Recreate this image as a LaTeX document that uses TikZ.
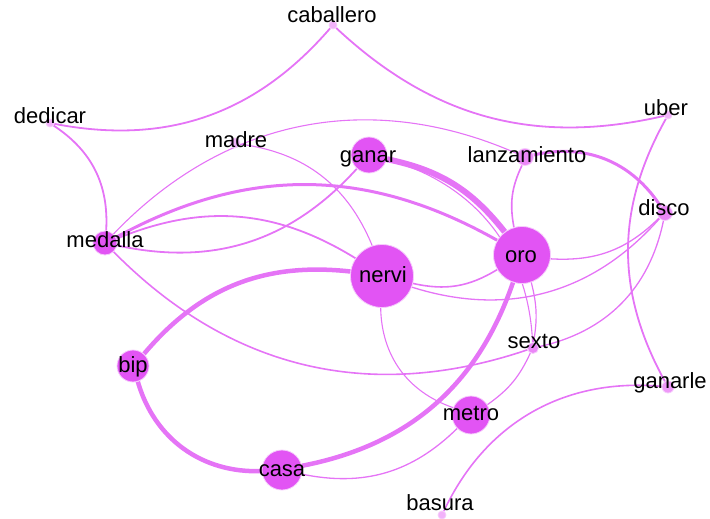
\documentclass[tikz,border=0pt]{standalone}
\usepackage{fontspec}
\setmainfont{Liberation Sans}
\usetikzlibrary{backgrounds}
\definecolor{nodeCol}{RGB}{226,84,244}
\definecolor{edgeCol}{RGB}{229,116,246}
\definecolor{rimCol}{RGB}{246,204,252}

\begin{document}
\begin{tikzpicture}[x=1pt,y=-1pt,
  vert/.style={circle,inner sep=0pt,fill=nodeCol,draw=rimCol,line width=0.8pt,minimum size=#1},
  dot/.style={vert=#1,fill=nodeCol!45},
  word/.style={anchor=base,inner sep=0pt,font=\fontsize{22pt}{24pt}\selectfont,text=black},
  link/.style={draw=edgeCol,line width=#1}]
\useasboundingbox (0,0) rectangle (710,519);
%%%%%%%%%%%%%%%%%%%%%%%%%%%%
%%%%%%%%% Nodes %%%%%%%%%%%%
%%%%%%%%%%%%%%%%%%%%%%%%%%%%
\node[dot=8] (caballero) at (333,25) {};
\node[dot=8] (dedicar) at (50,123) {};
\node[dot=10] (madre) at (235,143) {};
\node[dot=8] (uber) at (668,115) {};
\node[vert=36] (ganar) at (369,155) {};
\node[vert=17,fill=nodeCol!70] (lanzamiento) at (525,157) {};
\node[vert=15,fill=nodeCol!70] (disco) at (665,213) {};
\node[vert=24] (medalla) at (105,243) {};
\node[vert=63] (nervi) at (382,276) {};
\node[vert=57] (oro) at (522,255) {};
\node[vert=11,fill=nodeCol!70] (sexto) at (533,348) {};
\node[vert=32] (bip) at (133,366) {};
\node[vert=12,fill=nodeCol!60] (ganarle) at (668,387) {};
\node[vert=38] (metro) at (471,415) {};
\node[vert=40] (casa) at (282,470) {};
\node[dot=8] (basura) at (442,515) {};
% labels
\node[word] (caballeroL) at (332,23) {caballero};
\node[word] (dedicarL) at (50,123) {dedicar};
\node[word] (madreL) at (236,147) {madre};
\node[word] (uberL) at (666,115) {uber};
\node[word] (ganarL) at (368,162) {ganar};
\node[word] (lanzamientoL) at (527,162) {lanzamiento};
\node[word] (discoL) at (664,215) {disco};
\node[word] (medallaL) at (105,247) {medalla};
\node[word] (nerviL) at (383,282) {nervi};
\node[word] (oroL) at (521,262) {oro};
\node[word] (sextoL) at (534,348) {sexto};
\node[word] (bipL) at (133,372) {bip};
\node[word] (ganarleL) at (670,388) {ganarle};
\node[word] (metroL) at (471,420) {metro};
\node[word] (casaL) at (282,476) {casa};
\node[word] (basuraL) at (440,510) {basura};
%%%%%%%%%%%%%%%%%%%%%%%%%%%%
%%%%%%%%% Edges %%%%%%%%%%%%
%%%%%%%%%%%%%%%%%%%%%%%%%%%%
\begin{scope}[on background layer]
\draw[link=1.8] (caballero) to[bend left=30] (dedicar);
\draw[link=1.8] (caballero) to[bend right=28] (uber);
\draw[link=1.8] (dedicar) to[bend left=30] (medalla);
\draw[link=1.1] (medalla) to[bend left=35] (lanzamiento);
\draw[link=1.1] (madre) to[bend left=30] (nervi);
\draw[link=3] (medalla) to[bend left=29] (oro);
\draw[link=1.8] (medalla) to[bend left=27] (nervi);
\draw[link=1.8] (medalla) to[bend right=30] (ganar);
\draw[link=1.6] (medalla) to[bend right=32] (sexto);
\draw[link=6] (ganar) to[bend left=20] (oro);
\draw[link=1.1] (ganar) to[bend left=36] (sexto);
\draw[link=4.5] (nervi) to[bend right=28] (bip);
\draw[link=1.6] (nervi) to[bend right=22] (oro);
\draw[link=1.3] (nervi) to[bend right=33] (disco);
\draw[link=1.1] (nervi) to[bend right=35] (metro);
\draw[link=4.5] (oro) to[bend left=30] (casa);
\draw[link=1.6] (oro) to[bend left=18] (lanzamiento);
\draw[link=1.3] (oro) to[bend right=24] (disco);
\draw[link=1.2] (oro) to[bend left=12] (sexto);
\draw[link=3] (lanzamiento) to[bend left=35] (disco);
\draw[link=1.3] (disco) to[bend left=33] (sexto);
\draw[link=1.8] (uber) to[bend right=29] (ganarle);
\draw[link=1.6] (ganarle) to[bend right=35] (basura);
\draw[link=4.5] (bip) to[bend right=38] (casa);
\draw[link=1.3] (casa) to[bend right=28] (metro);
\draw[link=1.2] (metro) to[bend right=15] (sexto);
\end{scope}
\end{tikzpicture}
\end{document}
